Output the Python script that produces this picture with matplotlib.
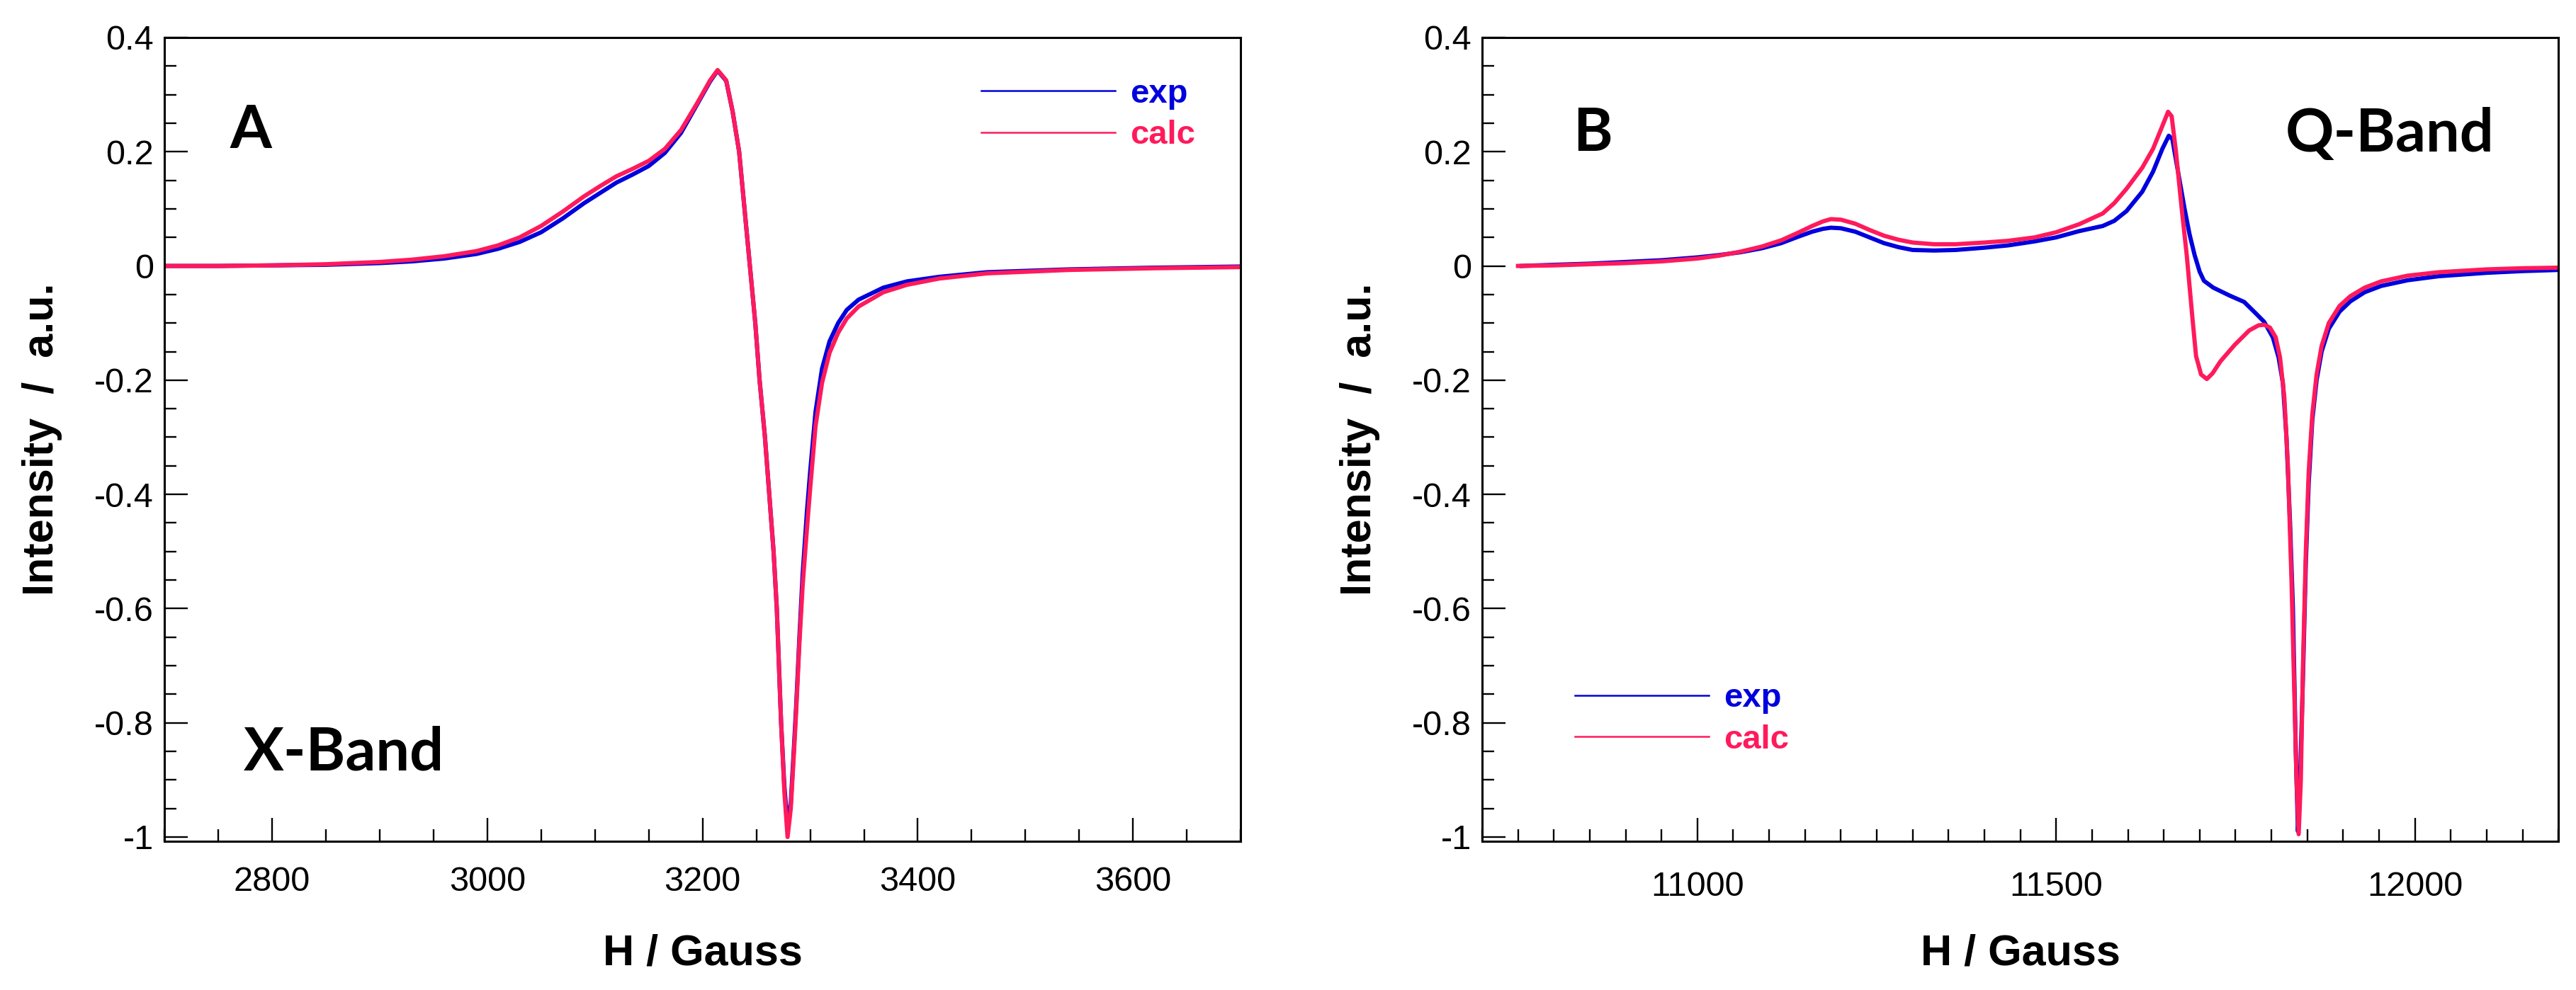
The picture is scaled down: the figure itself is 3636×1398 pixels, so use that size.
import matplotlib
matplotlib.use("Agg")
import matplotlib.pyplot as plt
from matplotlib.ticker import MultipleLocator
import numpy as np

# X-band spectrum (panel A)
xa_exp = [2700, 2750, 2800, 2850, 2900, 2930, 2960, 2990, 3010, 3030, 3050, 3070, 3090, 3105,
          3120, 3135, 3150, 3165, 3180, 3195, 3207, 3214, 3222, 3228, 3234, 3239, 3244, 3249,
          3253, 3258, 3262, 3266, 3269, 3271, 3273, 3276, 3279, 3282, 3285, 3287, 3290, 3293,
          3297, 3300, 3305, 3311, 3318, 3326, 3334, 3345, 3368, 3390, 3420, 3464, 3540, 3620, 3700]
ya_exp = [0.000, 0.000, 0.001, 0.002, 0.005, 0.008, 0.013, 0.021, 0.030, 0.042, 0.059, 0.083,
          0.110, 0.128, 0.146, 0.160, 0.175, 0.198, 0.233, 0.283, 0.323, 0.342, 0.324, 0.270,
          0.200, 0.100, 0.000, -0.100, -0.200, -0.300, -0.400, -0.500, -0.600, -0.700, -0.800,
          -0.910, -0.980, -0.940, -0.840, -0.770, -0.650, -0.540, -0.430, -0.360, -0.255, -0.180,
          -0.132, -0.100, -0.077, -0.059, -0.038, -0.027, -0.019, -0.011, -0.006, -0.003, -0.001]
xa_calc = xa_exp
ya_calc = [0.000, 0.000, 0.001, 0.003, 0.007, 0.011, 0.017, 0.026, 0.036, 0.050, 0.070, 0.095,
           0.122, 0.140, 0.157, 0.170, 0.184, 0.205, 0.238, 0.285, 0.325, 0.343, 0.325, 0.270,
           0.200, 0.100, 0.000, -0.100, -0.200, -0.300, -0.400, -0.500, -0.600, -0.700, -0.800,
           -0.920, -1.000, -0.950, -0.850, -0.780, -0.660, -0.560, -0.460, -0.390, -0.280, -0.205,
           -0.152, -0.117, -0.092, -0.071, -0.046, -0.033, -0.022, -0.013, -0.007, -0.004, -0.002]

# Q-band spectrum (panel B)
xb_exp = [10755, 10800, 10850, 10900, 10950, 11000, 11030, 11060, 11090, 11117, 11140, 11160,
          11175, 11186, 11200, 11220, 11240, 11260, 11280, 11300, 11330, 11360, 11400, 11433,
          11470, 11500, 11532, 11565, 11581, 11598, 11620, 11635, 11648, 11657, 11662, 11665,
          11672, 11679, 11686, 11693, 11700, 11706, 11719, 11742, 11762, 11779, 11790, 11802,
          11810, 11816, 11821, 11826, 11830, 11834, 11837, 11840, 11844, 11848, 11852, 11857,
          11863, 11870, 11880, 11895, 11910, 11930, 11953, 11990, 12033, 12100, 12150, 12200]
yb_exp = [0.000, 0.002, 0.004, 0.007, 0.010, 0.015, 0.019, 0.024, 0.031, 0.040, 0.051, 0.060,
          0.065, 0.067, 0.066, 0.060, 0.050, 0.040, 0.033, 0.028, 0.027, 0.028, 0.032, 0.036,
          0.043, 0.050, 0.061, 0.070, 0.079, 0.096, 0.130, 0.165, 0.205, 0.228, 0.222, 0.200,
          0.150, 0.100, 0.055, 0.019, -0.010, -0.026, -0.038, -0.052, -0.063, -0.084, -0.098,
          -0.125, -0.160, -0.205, -0.300, -0.450, -0.600, -0.850, -0.990, -0.900, -0.720, -0.520,
          -0.380, -0.270, -0.200, -0.150, -0.110, -0.080, -0.062, -0.046, -0.035, -0.025, -0.018,
          -0.012, -0.009, -0.007]
xb_calc = [10750, 10800, 10850, 10900, 10950, 11000, 11030, 11060, 11090, 11117, 11140, 11160,
           11175, 11186, 11200, 11220, 11240, 11260, 11280, 11300, 11330, 11360, 11400, 11433,
           11470, 11500, 11532, 11565, 11581, 11598, 11620, 11635, 11648, 11656, 11661, 11667,
           11675, 11682, 11690, 11695, 11702, 11710, 11718, 11729, 11749, 11769, 11782, 11790,
           11798, 11806, 11812, 11818, 11823, 11828, 11832, 11835, 11838, 11841, 11844, 11848,
           11852, 11857, 11863, 11870, 11880, 11895, 11910, 11930, 11953, 11990, 12033, 12100,
           12150, 12200]
yb_calc = [0.000, 0.001, 0.003, 0.005, 0.008, 0.013, 0.018, 0.025, 0.034, 0.045, 0.058, 0.070,
           0.078, 0.082, 0.081, 0.074, 0.063, 0.053, 0.046, 0.041, 0.038, 0.038, 0.041, 0.044,
           0.050, 0.059, 0.073, 0.092, 0.110, 0.135, 0.172, 0.205, 0.245, 0.270, 0.262, 0.200,
           0.100, 0.019, -0.092, -0.158, -0.190, -0.198, -0.188, -0.167, -0.138, -0.113, -0.104,
           -0.103, -0.108, -0.125, -0.160, -0.230, -0.350, -0.550, -0.750, -0.900, -0.995, -0.900,
           -0.700, -0.500, -0.360, -0.260, -0.190, -0.140, -0.100, -0.070, -0.053, -0.038, -0.027,
           -0.017, -0.011, -0.006, -0.004, -0.003]

blue = '#0000DD'
red = '#FF1A5C'
tick_font = 'Liberation Sans'
tag_font = ['Lato', 'DejaVu Sans']

fig = plt.figure(figsize=(36.37, 13.98), dpi=100)
axA = fig.add_axes([0.0638, 0.1502, 0.4177, 0.8119])
axB = fig.add_axes([0.5752, 0.1502, 0.4177, 0.8119])

panels = [(axA, xa_exp, ya_exp, xa_calc, ya_calc, (2700, 3700), 200, 50, 25),
          (axB, xb_exp, yb_exp, xb_calc, yb_calc, (10700, 12200), 500, 50, 30)]

for ax, xe, ye, xc, yc, xl, major, minor, xpad in panels:
    ax.plot(xe, ye, color=blue, lw=4.3, label='exp')
    ax.plot(xc, yc, color=red, lw=4.3, label='calc')
    ax.set_xlim(*xl)
    ax.set_ylim(-1.0075, 0.4)
    ax.xaxis.set_major_locator(MultipleLocator(major))
    ax.xaxis.set_minor_locator(MultipleLocator(minor))
    ax.yaxis.set_major_locator(MultipleLocator(0.2))
    ax.yaxis.set_minor_locator(MultipleLocator(0.05))
    ax.set_yticks([0.4, 0.2, 0, -0.2, -0.4, -0.6, -0.8, -1])
    ax.set_yticklabels(['0.4', '0.2', '0', '-0.2', '-0.4', '-0.6', '-0.8', '-1'])
    for s in ax.spines.values():
        s.set_linewidth(2.2)
    ax.tick_params(axis='both', which='both', direction='in', top=False, right=False, width=1.7)
    ax.tick_params(axis='both', which='major', length=24)
    ax.tick_params(axis='both', which='minor', length=12)
    ax.tick_params(axis='y', which='major', pad=11, labelsize=35)
    ax.tick_params(axis='x', which='major', pad=xpad, labelsize=35)
    for lab in ax.get_xticklabels() + ax.get_yticklabels():
        lab.set_fontfamily(tick_font)
    ax.set_xlabel('H / Gauss', fontsize=44, fontweight='bold', family=tick_font)
    ax.set_ylabel('Intensity  /  a.u.', fontsize=44, fontweight='bold', family=tick_font)
    ax.xaxis.set_label_coords(0.5, -0.115)
    ax.yaxis.set_label_coords(-0.095, 0.5)

legA = axA.legend(loc='center left', bbox_to_anchor=(0.759, 0.904), frameon=False,
                  borderpad=0, borderaxespad=0, handlelength=4.0, handletextpad=0.45,
                  labelspacing=0.3, labelcolor='linecolor',
                  prop={'family': tick_font, 'weight': 'bold', 'size': 34})
legB = axB.legend(loc='center left', bbox_to_anchor=(0.086, 0.152), frameon=False,
                  borderpad=0, borderaxespad=0, handlelength=4.0, handletextpad=0.45,
                  labelspacing=0.3, labelcolor='linecolor',
                  prop={'family': tick_font, 'weight': 'bold', 'size': 34})
for leg in (legA, legB):
    for h in leg.get_lines():
        h.set_linewidth(1.8)

axA.text(0.080, 0.884, 'A', transform=axA.transAxes, ha='center', va='center',
         fontsize=61, fontweight='bold', family=tag_font)
axA.text(0.167, 0.110, 'X-Band', transform=axA.transAxes, ha='center', va='center',
         fontsize=61, fontweight='bold', family=tag_font)
axB.text(0.103, 0.881, 'B', transform=axB.transAxes, ha='center', va='center',
         fontsize=61, fontweight='bold', family=tag_font)
axB.text(0.843, 0.880, 'Q-Band', transform=axB.transAxes, ha='center', va='center',
         fontsize=61, fontweight='bold', family=tag_font)

fig.savefig('out.png', dpi=100)
